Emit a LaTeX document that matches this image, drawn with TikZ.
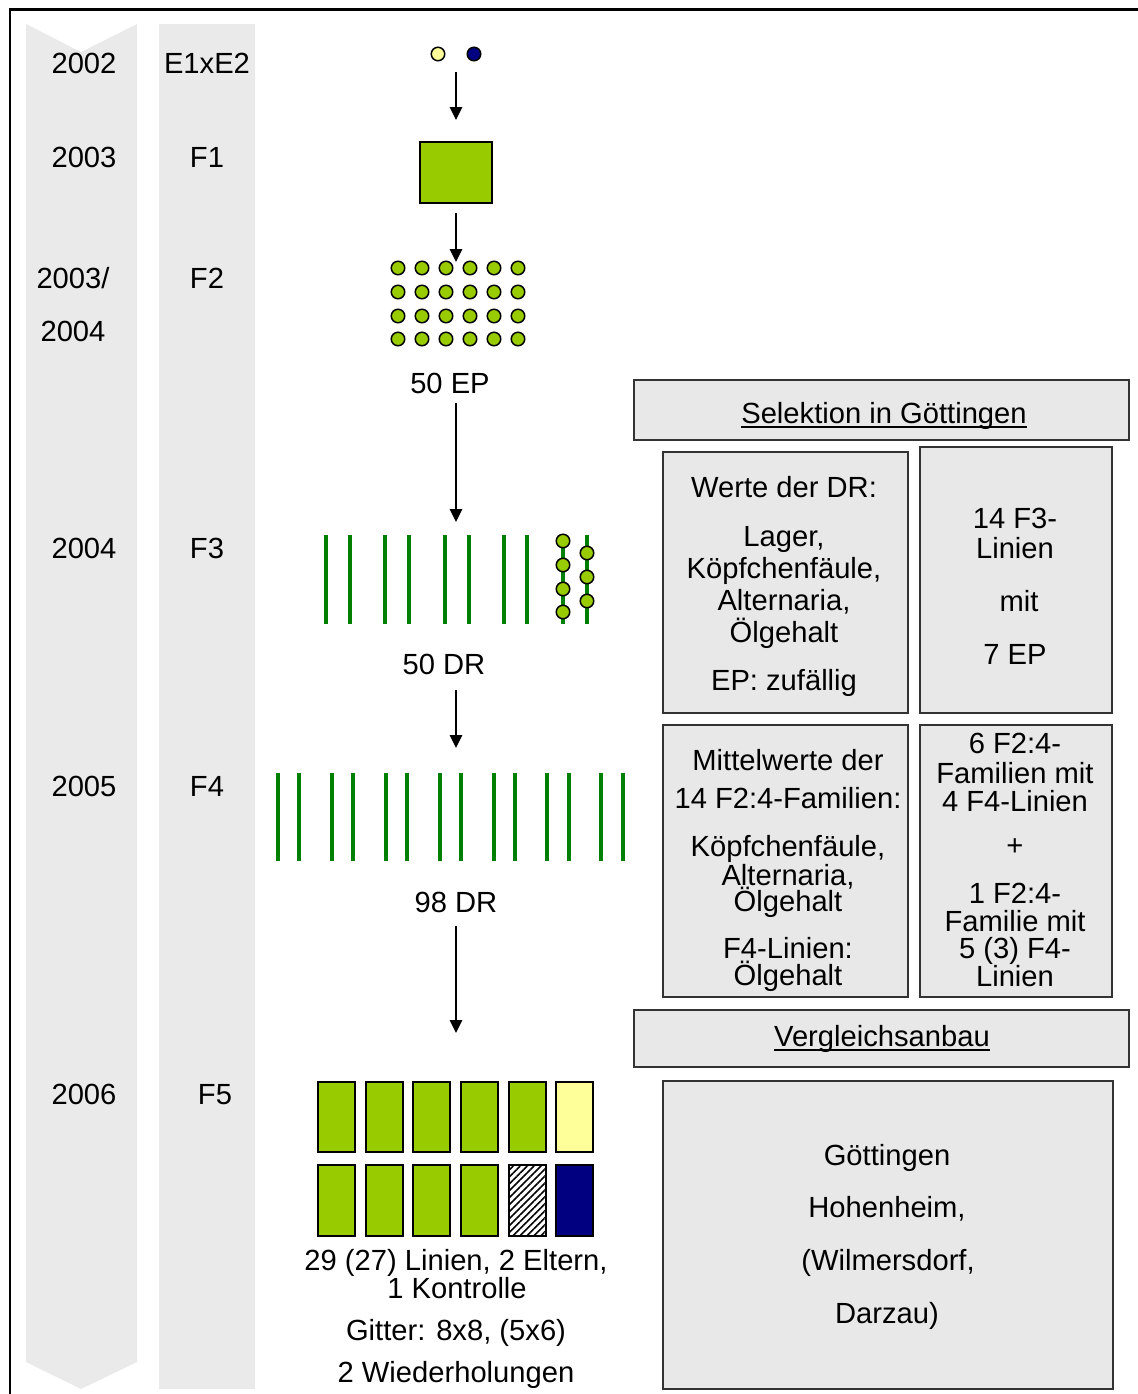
\documentclass[tikz,border=0pt]{standalone}
\usepackage{fontspec}
\setmainfont{Liberation Sans}
\usetikzlibrary{arrows.meta,patterns.meta}

\definecolor{seedgreen}{HTML}{99CC00}
\definecolor{rowgreen}{HTML}{008000}
\definecolor{parentyellow}{HTML}{FFFF99}
\definecolor{parentnavy}{HTML}{000080}
\definecolor{columngray}{HTML}{EAEAEA}
\definecolor{boxgray}{HTML}{E8E8E8}
\definecolor{boxline}{HTML}{333333}

\begin{document}
\begin{tikzpicture}[x=0.02cm, y=-0.02cm,
    every node/.style={font=\fontsize{16.6}{19}\selectfont, inner sep=0pt, anchor=base},
    flow/.style={-{Triangle[length=0.26cm,width=0.25cm]}, line width=0.03cm},
    panel/.style={fill=boxgray, draw=boxline, line width=0.04cm},
    seed/.style={fill=seedgreen, draw=black, line width=0.03cm},
    row/.style={draw=rowgreen, line width=0.08cm},
    plot/.style={draw=black, line width=0.045cm}]
    \path[use as bounding box] (0,0) rectangle (1138,1394);

    \draw [line width=0.06cm] (10,1394) -- (10,9) -- (1138,9);

    \fill [columngray] (26,24) -- (81,52) -- (137,24) -- (137,1362) -- (81,1389) -- (26,1362) -- cycle;
    \fill [columngray] (159,24) rectangle (255,1389);

    \node (2002-year) at (84,73) [] {2002};
    \node (2003-year) at (84,167) [] {2003};
    \node (2003/-year) at (73,288) [] {2003/};
    \node (2004a-year) at (73,341) [] {2004};
    \node (2004-year) at (84,558) [] {2004};
    \node (2005-year) at (84,796) [] {2005};
    \node (2006-year) at (84,1104) [] {2006};

    \node (E1xE2-generation) at (207,73) [] {E1xE2};
    \node (F1-generation) at (207,167) [] {F1};
    \node (F2-generation) at (207,288) [] {F2};
    \node (F3-generation) at (207,558) [] {F3};
    \node (F4-generation) at (207,796) [] {F4};
    \node (F5-generation) at (215,1104) [] {F5};

    \filldraw [fill=parentyellow, draw=black, line width=0.03cm] (438,54) circle (0.135cm);
    \filldraw [fill=parentnavy, draw=black, line width=0.03cm] (474,54) circle (0.135cm);

    \filldraw [seed, line width=0.04cm] (420,142) rectangle (492,203);

    \filldraw [seed] (398,268) circle (0.135cm) (422,268) circle (0.135cm) (446,268) circle (0.135cm) (470,268) circle (0.135cm) (494,268) circle (0.135cm) (518,268) circle (0.135cm);
    \filldraw [seed] (398,292) circle (0.135cm) (422,292) circle (0.135cm) (446,292) circle (0.135cm) (470,292) circle (0.135cm) (494,292) circle (0.135cm) (518,292) circle (0.135cm);
    \filldraw [seed] (398,316) circle (0.135cm) (422,316) circle (0.135cm) (446,316) circle (0.135cm) (470,316) circle (0.135cm) (494,316) circle (0.135cm) (518,316) circle (0.135cm);
    \filldraw [seed] (398,339) circle (0.135cm) (422,339) circle (0.135cm) (446,339) circle (0.135cm) (470,339) circle (0.135cm) (494,339) circle (0.135cm) (518,339) circle (0.135cm);

    \node (F2-count) at (450,393) [] {50 EP};

    \draw [row] (326,535) -- (326,624);
    \draw [row] (350,535) -- (350,624);
    \draw [row] (385,535) -- (385,624);
    \draw [row] (409,535) -- (409,624);
    \draw [row] (445,535) -- (445,624);
    \draw [row] (469,535) -- (469,624);
    \draw [row] (504,535) -- (504,624);
    \draw [row] (527,535) -- (527,624);
    \draw [row] (563,535) -- (563,624);
    \draw [row] (587,535) -- (587,624);

    \filldraw [seed] (563,541) circle (0.135cm) (563,565) circle (0.135cm) (563,589) circle (0.135cm) (563,612) circle (0.135cm);
    \filldraw [seed] (587,553) circle (0.135cm) (587,577) circle (0.135cm) (587,601) circle (0.135cm);

    \node (F3-count) at (444,674) [] {50 DR};

    \draw [row] (278,773) -- (278,861);
    \draw [row] (299,773) -- (299,861);
    \draw [row] (332,773) -- (332,861);
    \draw [row] (353,773) -- (353,861);
    \draw [row] (386,773) -- (386,861);
    \draw [row] (407,773) -- (407,861);
    \draw [row] (440,773) -- (440,861);
    \draw [row] (461,773) -- (461,861);
    \draw [row] (494,773) -- (494,861);
    \draw [row] (515,773) -- (515,861);
    \draw [row] (547,773) -- (547,861);
    \draw [row] (569,773) -- (569,861);
    \draw [row] (601,773) -- (601,861);
    \draw [row] (623,773) -- (623,861);

    \node (F4-count) at (456,912) [] {98 DR};

    \filldraw [plot, fill=seedgreen] (318,1082) rectangle (355,1152);
    \filldraw [plot, fill=seedgreen] (366,1082) rectangle (403,1152);
    \filldraw [plot, fill=seedgreen] (413,1082) rectangle (450,1152);
    \filldraw [plot, fill=seedgreen] (461,1082) rectangle (498,1152);
    \filldraw [plot, fill=seedgreen] (509,1082) rectangle (546,1152);
    \filldraw [plot, fill=parentyellow] (556,1082) rectangle (593,1152);

    \filldraw [plot, fill=seedgreen] (318,1165) rectangle (355,1236);
    \filldraw [plot, fill=seedgreen] (366,1165) rectangle (403,1236);
    \filldraw [plot, fill=seedgreen] (413,1165) rectangle (450,1236);
    \filldraw [plot, fill=seedgreen] (461,1165) rectangle (498,1236);
    \filldraw [plot, fill=white, postaction={pattern={Lines[angle=45,distance=2.8pt,line width=0.9pt]}}] (509,1165) rectangle (546,1236);
    \filldraw [plot, fill=parentnavy] (556,1165) rectangle (593,1236);

    \node (F5-lines) at (456,1270) [] {29 (27) Linien, 2 Eltern,};
    \node (F5-control) at (457,1298) [] {1 Kontrolle};
    \node (F5-grid) at (456,1340) [] {Gitter: 8x8, (5x6)};
    \node (F5-repeats) at (456,1382) [] {2 Wiederholungen};

    \coordinate (E1xE2-out) at (456,72);
    \coordinate (F1-in) at (456,120);
    \coordinate (F1-out) at (456,213);
    \coordinate (F2-in) at (456,262);
    \coordinate (F2-out) at (456,403);
    \coordinate (F3-in) at (456,522);
    \coordinate (F3-out) at (456,690);
    \coordinate (F4-in) at (456,748);
    \coordinate (F4-out) at (456,926);
    \coordinate (F5-in) at (456,1033);

    \draw [flow] (E1xE2-out) -- (F1-in);
    \draw [flow] (F1-out) -- (F2-in);
    \draw [flow] (F2-out) -- (F3-in);
    \draw [flow] (F3-out) -- (F4-in);
    \draw [flow] (F4-out) -- (F5-in);

    \filldraw [panel] (634,380) rectangle (1129,440);
    \filldraw [panel] (663,452) rectangle (908,713);
    \filldraw [panel] (920,447) rectangle (1112,713);
    \filldraw [panel] (663,725) rectangle (908,997);
    \filldraw [panel] (920,725) rectangle (1112,997);
    \filldraw [panel] (634,1010) rectangle (1129,1067);
    \filldraw [panel] (663,1081) rectangle (1113,1389);

    \node (selection-title) at (884,423) [] {Selektion in Göttingen};
    \draw [line width=0.03cm] ([yshift=-0.08cm]selection-title.base west) -- ([yshift=-0.08cm]selection-title.base east);

    \node (F3-traits-head) at (784,497) [] {Werte der DR:};
    \node (F3-traits-lager) at (784,546) [] {Lager,};
    \node (F3-traits-koepfchen) at (784,578) [] {Köpfchenfäule,};
    \node (F3-traits-alternaria) at (784,610) [] {Alternaria,};
    \node (F3-traits-oel) at (784,642) [] {Ölgehalt};
    \node (F3-traits-ep) at (784,690) [] {EP: zufällig};

    \node (F3-lines-count) at (1015,528) [] {14 F3-};
    \node (F3-lines-word) at (1015,558) [] {Linien};
    \node (F3-lines-mit) at (1019,611) [] {mit};
    \node (F3-lines-ep) at (1015,664) [] {7 EP};

    \node (F4-traits-head) at (788,770) [] {Mittelwerte der};
    \node (F4-traits-families) at (788,808) [] {14 F2:4-Familien:};
    \node (F4-traits-koepfchen) at (788,856) [] {Köpfchenfäule,};
    \node (F4-traits-alternaria) at (788,885) [] {Alternaria,};
    \node (F4-traits-oel) at (788,911) [] {Ölgehalt};
    \node (F4-traits-lines) at (788,958) [] {F4-Linien:};
    \node (F4-traits-lines-oel) at (788,985) [] {Ölgehalt};

    \node (F4-families-a) at (1015,753) [] {6 F2:4-};
    \node (F4-families-b) at (1015,783) [] {Familien mit};
    \node (F4-families-c) at (1015,811) [] {4 F4-Linien};
    \node (F4-families-plus) at (1015,855) [] {+};
    \node (F4-families-d) at (1015,903) [] {1 F2:4-};
    \node (F4-families-e) at (1015,931) [] {Familie mit};
    \node (F4-families-f) at (1015,958) [] {5 (3) F4-};
    \node (F4-families-g) at (1015,986) [] {Linien};

    \node (comparison-title) at (882,1046) [] {Vergleichsanbau};
    \draw [line width=0.03cm] ([yshift=-0.08cm]comparison-title.base west) -- ([yshift=-0.08cm]comparison-title.base east);

    \node (site-goettingen) at (887,1165) [] {Göttingen};
    \node (site-hohenheim) at (887,1217) [] {Hohenheim,};
    \node (site-wilmersdorf) at (888,1270) [] {(Wilmersdorf,};
    \node (site-darzau) at (887,1323) [] {Darzau)};
\end{tikzpicture}
\end{document}
